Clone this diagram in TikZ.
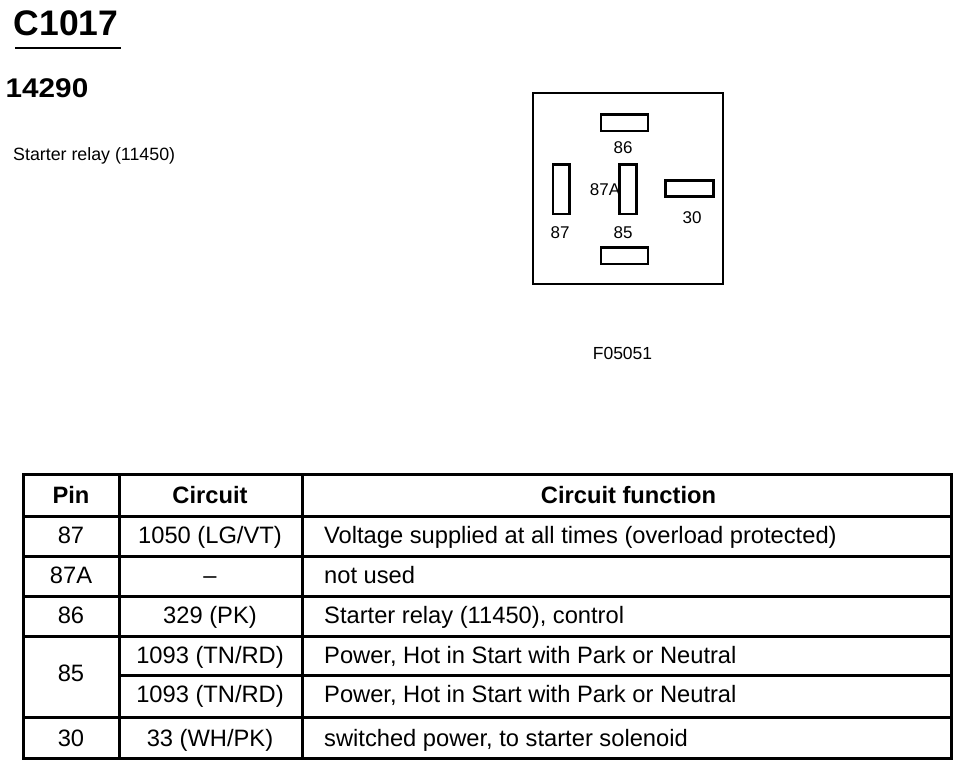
\documentclass[tikz,border=0pt]{standalone}
\usepackage{fontspec}
\setmainfont{Liberation Sans}
\newfontfamily\widesans[FakeStretch=1.1]{Liberation Sans}
\tikzset{
  tline/.style={line width=3pt},
  cline/.style={line width=2.7pt},
  pinbox/.style={line width=2.5pt},
  ttxt/.style={font=\fontsize{23.7}{27}\selectfont, inner sep=0pt, anchor=base},
  ttxtl/.style={font=\fontsize{23.7}{27}\selectfont, inner sep=0pt, anchor=base west},
  thead/.style={font=\fontsize{23.7}{27}\selectfont\bfseries, inner sep=0pt, anchor=base},
  small/.style={font=\fontsize{17}{20}\selectfont, inner sep=0pt, anchor=base},
}
\begin{document}
\begin{tikzpicture}[x=1pt,y=-1pt]
\useasboundingbox (0,0) rectangle (963,769);
\fill[white] (0,0) rectangle (963,769);

% titles
\node[font=\fontsize{35.5}{40}\selectfont\bfseries, inner sep=0pt, anchor=base west] (title) at (13.5,35) {C1017};
\draw[line width=2.7pt] (15,48) -- (121,48);
\node[font=\fontsize{27}{31}\selectfont\widesans\bfseries, inner sep=0pt, anchor=base west] (num) at (5.5,97) {14290};
\node[font=\fontsize{17.8}{20}\selectfont, inner sep=0pt, anchor=base west] (desc) at (13,160) {Starter relay (11450)};

% connector face
\draw[cline] (533,93) rectangle (723,284);
\draw[pinbox] (601,114.5) rectangle (648,131);
\draw[pinbox] (601,247.5) rectangle (648,264);
\draw[pinbox] (553,164.5) rectangle (569.5,214);
\draw[pinbox] (619.5,164.5) rectangle (636.5,214);
\draw[pinbox] (665.5,180.5) rectangle (713.5,196.5);
\node[small] (l86) at (623,153) {86};
\node[small] (l87A) at (605,195) {87A};
\node[small] (l30) at (692,223) {30};
\node[small] (l87) at (560,238) {87};
\node[small] (l85) at (623,238) {85};
\node[small, font=\fontsize{17.5}{20}\selectfont] (fig) at (622.5,359) {F05051};

% table
\draw[tline] (23,474) rectangle (951,758);
\draw[tline] (23,516) -- (951,516);
\draw[tline] (23,556) -- (951,556);
\draw[tline] (23,596) -- (951,596);
\draw[tline] (23,636) -- (951,636);
\draw[tline] (119,675) -- (951,675);
\draw[tline] (23,717) -- (951,717);
\draw[tline] (119,474) -- (119,758);
\draw[tline] (302,474) -- (302,758);

\node[thead] (hpin) at (71,503) {Pin};
\node[thead] (hcirc) at (210,503) {Circuit};
\node[thead] (hfunc) at (628.5,503) {Circuit function};

\node[ttxt] (p1) at (71,543) {87};
\node[ttxt] (c1) at (210,543) {1050 (LG/VT)};
\node[ttxtl] (f1) at (324,543) {Voltage supplied at all times (overload protected)};

\node[ttxt] (p2) at (71,583) {87A};
\node[ttxt] (c2) at (210,583) {–};
\node[ttxtl] (f2) at (324,583) {not used};

\node[ttxt] (p3) at (71,623) {86};
\node[ttxt] (c3) at (210,623) {329 (PK)};
\node[ttxtl] (f3) at (324,623) {Starter relay (11450), control};

\node[ttxt] (p4) at (71,681) {85};
\node[ttxt] (c4) at (210,663) {1093 (TN/RD)};
\node[ttxtl] (f4) at (324,663) {Power, Hot in Start with Park or Neutral};
\node[ttxt] (c5) at (210,702) {1093 (TN/RD)};
\node[ttxtl] (f5) at (324,702) {Power, Hot in Start with Park or Neutral};

\node[ttxt] (p6) at (71,746) {30};
\node[ttxt] (c6) at (210,746) {33 (WH/PK)};
\node[ttxtl] (f6) at (324,746) {switched power, to starter solenoid};
\end{tikzpicture}
\end{document}
